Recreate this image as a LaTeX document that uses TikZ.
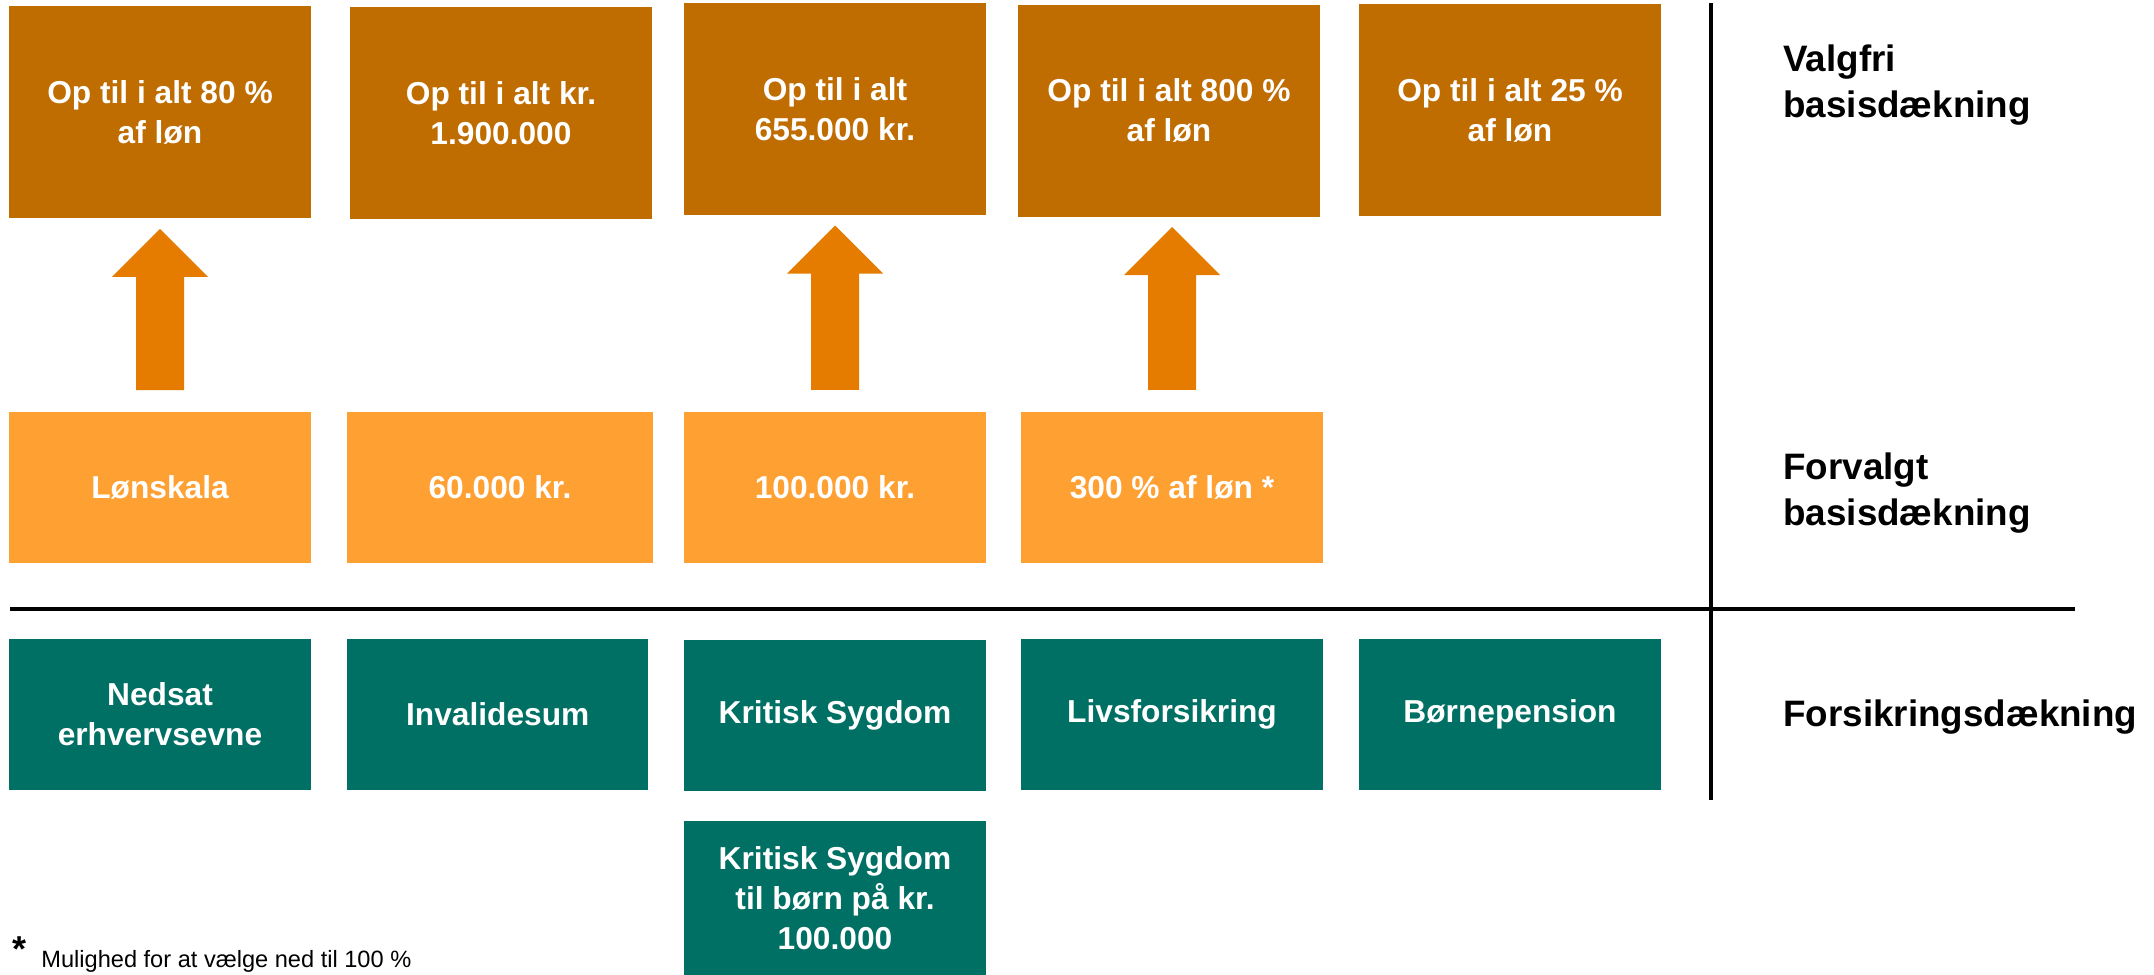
\documentclass[tikz,border=0pt]{standalone}
\usepackage{fontspec}
\setmainfont{Liberation Sans}
\usetikzlibrary{calc}
\definecolor{topc}{RGB}{191,108,0}
\definecolor{arrc}{RGB}{229,124,0}
\definecolor{midc}{RGB}{255,160,51}
\definecolor{tealc}{RGB}{0,112,100}
\begin{document}
\begin{tikzpicture}[x=0.5pt,y=-0.5pt,
  cell/.style={rectangle, inner sep=0pt, outer sep=0pt, minimum width=151pt, text=white, align=center, font=\bfseries\fontsize{15.85}{20}\selectfont},
  topbox/.style={cell, fill=topc, minimum height=106pt},
  midbox/.style={cell, fill=midc, minimum height=75.35pt},
  tealbox/.style={cell, fill=tealc, minimum height=75.35pt},
  rowlabel/.style={anchor=west, inner sep=0pt, align=left, font=\bfseries\fontsize{18.4}{23.2}\selectfont},
  upar/.style={fill=arrc},
  divider/.style={line width=2pt, black}]
\useasboundingbox (0,0) rectangle (2154,975);

% top row
\node[topbox] (v1) at (160,112.35) {Op til i alt 80 \%\\af løn};
\node[topbox] (v2) at (501,112.9) {Op til i alt kr.\\1.900.000};
\node[topbox] (v3) at (835,109) {Op til i alt\\655.000 kr.};
\node[topbox] (v4) at (1169,110.5) {Op til i alt 800 \%\\af løn};
\node[topbox] (v5) at (1510,110.4) {Op til i alt 25 \%\\af løn};

% middle row
\node[midbox] (o1) at (160,487.35) {Lønskala};
\node[midbox, minimum width=152.9pt] (o2) at (500,487.35) {60.000 kr.};
\node[midbox] (o3) at (835,487.2) {100.000 kr.};
\node[midbox] (o4) at (1172,487.2) {300 \% af løn *};

% teal row
\node[tealbox] (t1) at (160,714.35) {Nedsat\\erhvervsevne};
\node[tealbox, minimum width=150.6pt] (t2) at (497.7,714.35) {Invalidesum};
\node[tealbox] (t3) at (835,715.25) {Kritisk Sygdom};
\node[tealbox] (t4) at (1172,714.4) {Livsforsikring};
\node[tealbox] (t5) at (1510,714.35) {Børnepension};
\node[tealbox, minimum height=77pt] (t6) at (835,898) {Kritisk Sygdom\\til børn på kr.\\100.000};

% block arrows
\foreach \s/\t in {o1/v1,o3/v3,o4/v4}{
  \coordinate (\s b) at ($(\s.north)+(0,-22)$);
  \coordinate (\s t) at ($(\s.north |- \t.south)+(0,10.5)$);
  \fill[upar] ($(\s b)+(-24,0)$) -- ($(\s b)+(24,0)$) -- ($(\s t)+(24,48)$) -- ($(\s t)+(48,48)$) -- (\s t) -- ($(\s t)+(-48,48)$) -- ($(\s t)+(-24,48)$) -- cycle;
}

% dividers
\coordinate (hl) at (10,608.7);
\coordinate (hr) at (2075,608.7);
\coordinate (vt) at (1711,3);
\coordinate (vb) at (1711,800);
\draw[divider] (hl) -- (hr);
\draw[divider] (vt) -- (vb);

% row labels
\node[rowlabel] (l1) at (1783,85) {Valgfri\\basisdækning};
\node[rowlabel] (l2) at (1783,493) {Forvalgt\\basisdækning};
\node[rowlabel] (l3) at (1783,717.4) {Forsikringsdækning};

% footnote
\node[anchor=base west, inner sep=0pt, font=\bfseries\fontsize{18}{20}\selectfont] (fs) at (12,961) {*};
\node[anchor=base west, inner sep=0pt, font=\fontsize{11.8}{14}\selectfont] (fn) at (41,967) {Mulighed for at vælge ned til 100 \%};
\end{tikzpicture}
\end{document}
